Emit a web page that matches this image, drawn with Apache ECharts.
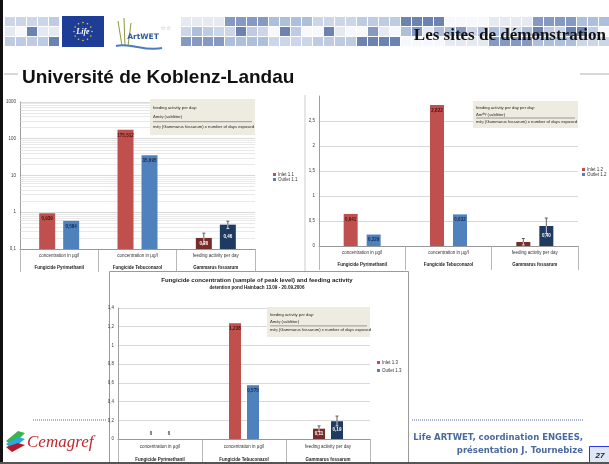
<!DOCTYPE html>
<html>
<head>
<meta charset="utf-8">
<script src="https://cdn.jsdelivr.net/npm/echarts@6/dist/echarts.min.js"></script>
<style>
  html, body { margin: 0; padding: 0; background: #fff; }
  #slide { width: 609px; height: 464px; }
</style>
</head>
<body>
<div id="slide"></div>
<script>
// categories and labels shared by the three Excel charts
const categories = ['Fungicide Pyrimethanil', 'Fungicide Tebuconazol', 'Gammarus fossarum'];
const measures = ['concentration in µg/l', 'concentration in µg/l', 'feeding activity per day'];
const decimals = [3, 3, 2];

// site 1.1 (log axis)
const inlet11 = [0.939, 175.512, 0.20];
const outlet11 = [0.584, 35.695, 0.46];
const errInlet11 = [null, null, [0.14, 0.27]];
const errOutlet11 = [null, null, [0.36, 0.57]];
const logTicks11 = [0.1, 1, 10, 100, 1000];

// site 1.2
const inlet12 = [0.641, 2.822, 0.08];
const outlet12 = [0.229, 0.632, 0.40];
const errInlet12 = [null, null, [0.02, 0.15]];
const errOutlet12 = [null, null, [0.25, 0.56]];

// site 1.3
const inlet13 = [0, 1.238, 0.11];
const outlet13 = [0, 0.575, 0.19];
const errInlet13 = [null, null, [0.08, 0.14]];
const errOutlet13 = [null, null, [0.14, 0.245]];

const RED = '#c0504d', BLUE = '#4f81bd', DRED = '#772c2a', NAVY = '#1f3a60';
const FONT = 'Liberation Sans, Arial, sans-serif';

const panels = [
  { inlet: inlet11, outlet: outlet11, errIn: errInlet11, errOut: errOutlet11,
    names: ['Inlet 1.1', 'Outlet 1.1'], log: true,
    grid: { left: 20, top: 102, width: 235, height: 147 },
    barWidth: 16, gap: 8, tick: 23, lineH: 12,
    legend: { left: 273, top: 172, itemGap: 0 } },
  { inlet: inlet12, outlet: outlet12, errIn: errInlet12, errOut: errOutlet12,
    names: ['Inlet 1.2', 'Outlet 1.2'], max: 3, interval: 0.5,
    grid: { left: 319, top: 96, width: 259, height: 150 },
    barWidth: 14, gap: 9, tick: 24, lineH: 12, hideLabel: [2],
    legend: { left: 582, top: 167, itemGap: 0 } },
  { inlet: inlet13, outlet: outlet13, errIn: errInlet13, errOut: errOutlet13,
    names: ['Inlet 1.3', 'Outlet 1.3'], max: 1.4, interval: 0.2,
    grid: { left: 118, top: 308, width: 252, height: 131 },
    barWidth: 12, gap: 6, tick: 25, lineH: 13,
    legend: { left: 377, top: 360, itemGap: 3 } }
];

function fmtVal(v, k) {
  if (v === 0) return '0';
  return v.toFixed(decimals[k]).replace('.', ',');
}
function fmtAxis(v) {
  return String(parseFloat(v.toFixed(2))).replace('.', ',');
}

const grids = [], xAxes = [], yAxes = [], series = [], legends = [];

panels.forEach((p, i) => {
  grids.push(Object.assign({ containLabel: false }, p.grid));
  xAxes.push({
    type: 'category', gridIndex: i, data: categories,
    axisLine: { lineStyle: { color: '#868686', width: 0.8 } },
    axisTick: { show: true, interval: 0, length: p.tick, lineStyle: { color: '#a6a6a6', width: 0.8 } },
    axisLabel: {
      interval: 0, margin: 1,
      formatter: (v, k) => '{a|' + measures[k] + '}\n{b|' + v + '}',
      rich: {
        a: { fontSize: 4.5, lineHeight: p.lineH, color: '#333', fontFamily: FONT },
        b: { fontSize: 4.5, lineHeight: p.lineH, color: '#222', fontWeight: 'bold', fontFamily: FONT }
      }
    }
  });
  const y = {
    gridIndex: i,
    axisLine: { show: true, lineStyle: { color: '#868686', width: 0.8 } },
    axisTick: { show: false },
    axisLabel: { fontSize: 4.5, color: '#404040', fontFamily: FONT, margin: 4, formatter: fmtAxis },
    splitLine: { lineStyle: { color: '#bfbfbf', width: 0.6 } }
  };
  if (p.log) {
    Object.assign(y, { type: 'log', logBase: 10, min: 0.1, max: 1000, startValue: 0.1 });
  } else {
    Object.assign(y, { type: 'value', min: 0, max: p.max, interval: p.interval });
    if (i === 1) {
      y.axisLabel.showMaxLabel = false;
      y.splitLine.showMaxLine = false;
    }
  }
  yAxes.push(y);

  [p.inlet, p.outlet].forEach((vals, side) => {
    const s = {
      name: p.names[side], type: 'bar', xAxisIndex: i, yAxisIndex: i,
      barWidth: p.barWidth, barGap: (p.gap / p.barWidth * 100) + '%',
      data: vals.map((v, k) => ({
        value: v,
        itemStyle: { color: k === 2 ? (side ? NAVY : DRED) : (side ? BLUE : RED) },
        label: {
          show: !(side === 0 && p.hideLabel && p.hideLabel.includes(k)),
          position: v === 0 ? 'top' : (k === 2 ? 'inside' : 'insideTop'),
          color: v === 0 ? '#333' : (k === 2 ? '#fff' : (side ? '#13284f' : '#4a1010'))
        }
      })),
      itemStyle: { color: side ? BLUE : RED },
      label: {
        show: true, fontSize: 4.5, fontWeight: 'bold', fontFamily: FONT, distance: 3,
        formatter: prm => fmtVal(prm.value, prm.dataIndex)
      }
    };
    if (p.log && side === 0) {
      // Excel-style minor gridlines of the log axis
      const minors = [];
      logTicks11.slice(0, -1).forEach(d => { for (let m = 2; m <= 9; m++) minors.push(+(d * m).toPrecision(3)); });
      s.markLine = {
        silent: true, symbol: ['none', 'none'], z: 1, label: { show: false },
        lineStyle: { color: '#dadada', width: 0.6, type: 'solid' },
        emphasis: { disabled: true },
        data: minors.map(v => ({ yAxis: v }))
      };
    }
    series.push(s);
  });

  const errData = [];
  [p.errIn, p.errOut].forEach((arr, side) => {
    arr.forEach((e, k) => {
      if (e) errData.push([k, side ? p.outlet[k] : p.inlet[k], e[0], e[1], side]);
    });
  });
  const half = (p.barWidth + p.gap) / 2;
  series.push({
    type: 'custom', xAxisIndex: i, yAxisIndex: i, silent: true, z: 6,
    data: errData,
    renderItem(params, api) {
      const c = api.value(0), v = api.value(1), lo = api.value(2), hi = api.value(3);
      const dx = api.value(4) ? half : -half;
      const pHi = api.coord([c, hi]), pV = api.coord([c, v]), pLo = api.coord([c, lo]);
      const x = pHi[0] + dx;
      const dark = { stroke: '#3a3a3a', lineWidth: 0.8 };
      const light = { stroke: '#f2f2f2', lineWidth: 0.8 };
      return { type: 'group', children: [
        { type: 'line', shape: { x1: x, y1: pHi[1], x2: x, y2: pV[1] }, style: dark },
        { type: 'line', shape: { x1: x, y1: pV[1], x2: x, y2: pLo[1] }, style: light },
        { type: 'line', shape: { x1: x - 1.5, y1: pHi[1], x2: x + 1.5, y2: pHi[1] }, style: dark },
        { type: 'line', shape: { x1: x - 1.5, y1: pLo[1], x2: x + 1.5, y2: pLo[1] }, style: light }
      ] };
    }
  });

  legends.push(Object.assign({
    orient: 'vertical', data: p.names, icon: 'rect', itemWidth: 3, itemHeight: 3,
    textStyle: { fontSize: 4.5, color: '#333', fontFamily: FONT, padding: [0, 0, 0, -3] },
    padding: 0, selectedMode: false
  }, p.legend));
});

// ---------- slide decoration ----------
const gfx = [];
const tilePal = ['#cdd6e8', '#aebfdc', '#8699c3', '#e4e9f2', '#f7f8fb', '#6c82b0', '#bfcbe2'];
for (let c = 0; c * 11 + 5 < 609; c++) {
  const x = c * 11 + 5;
  if (x > 56 && x < 180) continue;
  for (let r = 0; r < 3; r++) {
    const col = tilePal[(c * 5 + r * 3 + (c % 4) * 2 + (r === 1 ? c % 3 : 0)) % tilePal.length];
    gfx.push({ type: 'rect', shape: { x: x, y: 17 + r * 10, width: 10, height: 9 }, style: { fill: col }, z: -20 });
  }
}
// Life logo
gfx.push({ type: 'rect', shape: { x: 62, y: 16, width: 42, height: 31 }, style: { fill: '#1d3d97' }, z: -19 });
for (let a = 0; a < 12; a++) {
  const t = a / 12 * Math.PI * 2;
  gfx.push({ type: 'circle', shape: { cx: 83 + 9 * Math.cos(t), cy: 31.5 + 9 * Math.sin(t), r: 0.8 }, style: { fill: '#f5d400' }, z: -18 });
}
gfx.push({ type: 'text', x: 83, y: 31.5, style: { text: 'Life', fill: '#fff', font: 'italic bold 8px Liberation Serif', align: 'center', verticalAlign: 'middle' }, z: -18 });
// ArtWET logo
gfx.push({ type: 'rect', shape: { x: 108, y: 16, width: 70, height: 34 }, style: { fill: '#fff' }, z: -19 });
[[122, 46, 118, 21], [125, 46, 124, 18], [128, 46, 131, 23]].forEach(l => {
  gfx.push({ type: 'line', shape: { x1: l[0], y1: l[1], x2: l[2], y2: l[3] }, style: { stroke: '#8a9a3a', lineWidth: 1 }, z: -18 });
});
gfx.push({ type: 'bezierCurve', shape: { x1: 116, y1: 46, x2: 162, y2: 48, cpx1: 130, cpy1: 42, cpx2: 145, cpy2: 52 }, style: { stroke: '#4a7cc0', lineWidth: 2, fill: 'none' }, z: -18 });
gfx.push({ type: 'text', x: 143, y: 37, style: { text: 'ArtWET', fill: '#2d5a9a', font: 'bold 7.5px DejaVu Sans', align: 'center', verticalAlign: 'middle' }, z: -18 });
gfx.push({ type: 'text', x: 166, y: 28, style: { text: '☆☆', fill: '#a0a8b8', font: '6px DejaVu Sans', align: 'center', verticalAlign: 'middle' }, z: -18 });
// titles
gfx.push({ type: 'text', x: 606, y: 36, style: { text: 'Les sites de démonstration', fill: '#111', font: 'bold 17px Liberation Serif', align: 'right', verticalAlign: 'middle' }, z: -17 });
gfx.push({ type: 'line', shape: { x1: 4, y1: 74, x2: 18, y2: 74 }, style: { stroke: '#b0b0b0', lineWidth: 1 }, z: -17 });
gfx.push({ type: 'line', shape: { x1: 580, y1: 74, x2: 609, y2: 74 }, style: { stroke: '#b0b0b0', lineWidth: 1 }, z: -17 });
gfx.push({ type: 'text', x: 22, y: 78, style: { text: 'Université de Koblenz-Landau', fill: '#111', font: 'bold 19px Liberation Sans', verticalAlign: 'middle' }, z: -17 });
// chart frames
gfx.push({ type: 'line', shape: { x1: 305, y1: 95, x2: 305, y2: 272 }, style: { stroke: '#c0c0c0', lineWidth: 0.8 }, z: -16 });
gfx.push({ type: 'rect', shape: { x: 109.5, y: 271.5, width: 299, height: 196 }, style: { fill: '#fff', stroke: '#9a9a9a', lineWidth: 1 }, z: -15 });
gfx.push({ type: 'text', x: 257, y: 280, style: { text: 'Fungicide concentration (sample of peak level) and feeding activity', fill: '#222', font: 'bold 6px Liberation Sans', align: 'center', verticalAlign: 'middle' }, z: -14 });
gfx.push({ type: 'text', x: 257, y: 288, style: { text: 'detention pond Hainbach 13.09 - 20.09.2006', fill: '#222', font: 'bold 4.6px Liberation Sans', align: 'center', verticalAlign: 'middle' }, z: -14 });
// formula boxes
function formulaBox(x, y, w, h, first) {
  const rich = { s: { fontSize: 3, fill: '#333' } };
  const f = '4.2px Liberation Sans';
  gfx.push({ type: 'rect', shape: { x: x, y: y, width: w, height: h }, style: { fill: '#eeece1' }, z: 3 });
  gfx.push({ type: 'text', x: x + 3, y: y + h * 0.25, style: { text: first, fill: '#222', font: f, verticalAlign: 'middle' }, z: 4 });
  gfx.push({ type: 'text', x: x + 3, y: y + h * 0.5, style: { text: 'Δm{s|dry} (sublitter)', rich: rich, fill: '#222', font: f, verticalAlign: 'middle' }, z: 4 });
  gfx.push({ type: 'line', shape: { x1: x + 3, y1: y + h * 0.63, x2: x + w - 3, y2: y + h * 0.63 }, style: { stroke: '#444', lineWidth: 0.5 }, z: 4 });
  gfx.push({ type: 'text', x: x + 3, y: y + h * 0.77, style: { text: 'm{s|dry} (Gammarus fossarum) x number of days exposed', rich: rich, fill: '#222', font: f, verticalAlign: 'middle' }, z: 4 });
}
formulaBox(150, 99, 105, 36, 'feeding activity per day:');
formulaBox(473, 101, 105, 27, 'feeding activity per day per day:');
formulaBox(267, 307, 103, 30, 'feeding activity per day:');
// footer
[[33, 107], [412, 583]].forEach(l => {
  gfx.push({ type: 'line', shape: { x1: l[0], y1: 420, x2: l[1], y2: 420 }, style: { stroke: '#8c9cc0', lineWidth: 1.5, lineDash: [1, 1] }, z: -10 });
});
gfx.push({ type: 'text', x: 583, y: 438, style: { text: 'Life ARTWET, coordination ENGEES,', fill: '#4a6a9e', font: 'bold 8.5px DejaVu Sans', align: 'right', verticalAlign: 'middle' }, z: -10 });
gfx.push({ type: 'text', x: 583, y: 451, style: { text: 'présentation J. Tournebize', fill: '#4a6a9e', font: 'bold 8.5px DejaVu Sans', align: 'right', verticalAlign: 'middle' }, z: -10 });
gfx.push({ type: 'rect', shape: { x: 589.5, y: 446.5, width: 22, height: 18 }, style: { fill: '#dfe7f6', stroke: '#2a35e6', lineWidth: 1 }, z: -10 });
gfx.push({ type: 'text', x: 600, y: 456, style: { text: '27', fill: '#222', font: 'italic bold 8px Liberation Sans', align: 'center', verticalAlign: 'middle' }, z: -9 });
// Cemagref logo
[['#3cb44a', 0], ['#2aa8df', 6], ['#b3182b', 12]].forEach(s => {
  const o = s[1];
  gfx.push({ type: 'polygon', shape: { points: [[6, 441 + o * 0.5], [18, 431 + o], [25, 433 + o], [12, 446 + o * 0.5]] }, style: { fill: s[0] }, z: -10 });
});
gfx.push({ type: 'text', x: 27, y: 443, style: { text: 'Cemagref', fill: '#c0282d', font: 'italic 17px Liberation Serif', verticalAlign: 'middle' }, z: -10 });
// slide border
gfx.push({ type: 'rect', shape: { x: 0, y: 0, width: 3, height: 464 }, style: { fill: '#111' }, z: 20 });
gfx.push({ type: 'rect', shape: { x: 0, y: 462, width: 609, height: 2 }, style: { fill: '#555' }, z: 20 });

const chart = echarts.init(document.getElementById('slide'), null, { renderer: 'canvas' });
chart.setOption({
  animation: false,
  backgroundColor: '#fff',
  grid: grids,
  xAxis: xAxes,
  yAxis: yAxes,
  legend: legends,
  series: series,
  graphic: { elements: gfx }
});
</script>
</body>
</html>
